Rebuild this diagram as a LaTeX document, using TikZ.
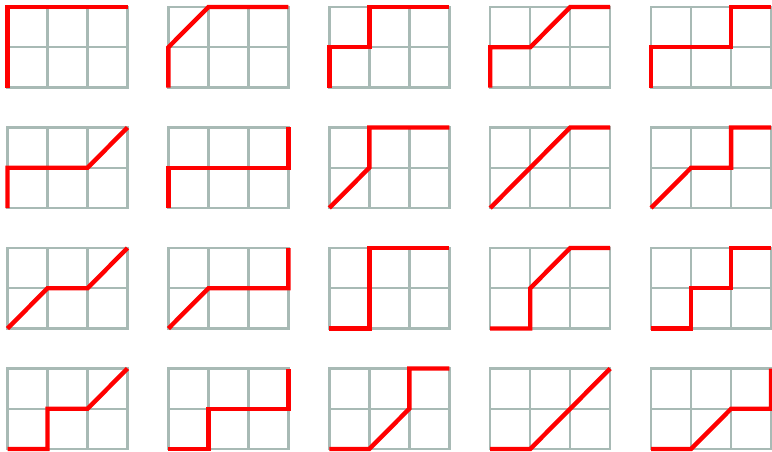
\documentclass[tikz,border=0pt]{standalone}
\definecolor{gridc}{RGB}{168,186,181}
\definecolor{pathred}{RGB}{255,0,0}
\newcommand\dcell[3]{%
  \begin{scope}[shift={(7.5+160.9*#1,87.5+120.5*#2)},x=30pt,y=30.19pt]
    \draw[gridline] (0,0) rectangle (3,2) (0,1)--(3,1) (1,0)--(1,2) (2,0)--(2,2);
    \draw[pathline] #3;
  \end{scope}}
\begin{document}
\begin{tikzpicture}[x=0.75pt,y=-0.75pt,
  gridline/.style={draw=gridc,line width=1.8pt},
  pathline/.style={draw=pathred,line width=3.3pt,line join=miter}]
\useasboundingbox (0,0) rectangle (772,451);
% row 1
\dcell{0}{0}{(0,0)--(0,2)--(3,2)}
\dcell{1}{0}{(0,0)--(0,1)--(1,2)--(3,2)}
\dcell{2}{0}{(0,0)--(0,1)--(1,1)--(1,2)--(3,2)}
\dcell{3}{0}{(0,0)--(0,1)--(1,1)--(2,2)--(3,2)}
\dcell{4}{0}{(0,0)--(0,1)--(2,1)--(2,2)--(3,2)}
% row 2
\dcell{0}{1}{(0,0)--(0,1)--(2,1)--(3,2)}
\dcell{1}{1}{(0,0)--(0,1)--(3,1)--(3,2)}
\dcell{2}{1}{(0,0)--(1,1)--(1,2)--(3,2)}
\dcell{3}{1}{(0,0)--(2,2)--(3,2)}
\dcell{4}{1}{(0,0)--(1,1)--(2,1)--(2,2)--(3,2)}
% row 3
\dcell{0}{2}{(0,0)--(1,1)--(2,1)--(3,2)}
\dcell{1}{2}{(0,0)--(1,1)--(3,1)--(3,2)}
\dcell{2}{2}{(0,0)--(1,0)--(1,2)--(3,2)}
\dcell{3}{2}{(0,0)--(1,0)--(1,1)--(2,2)--(3,2)}
\dcell{4}{2}{(0,0)--(1,0)--(1,1)--(2,1)--(2,2)--(3,2)}
% row 4
\dcell{0}{3}{(0,0)--(1,0)--(1,1)--(2,1)--(3,2)}
\dcell{1}{3}{(0,0)--(1,0)--(1,1)--(3,1)--(3,2)}
\dcell{2}{3}{(0,0)--(1,0)--(2,1)--(2,2)--(3,2)}
\dcell{3}{3}{(0,0)--(1,0)--(3,2)}
\dcell{4}{3}{(0,0)--(1,0)--(2,1)--(3,1)--(3,2)}
\end{tikzpicture}
\end{document}
